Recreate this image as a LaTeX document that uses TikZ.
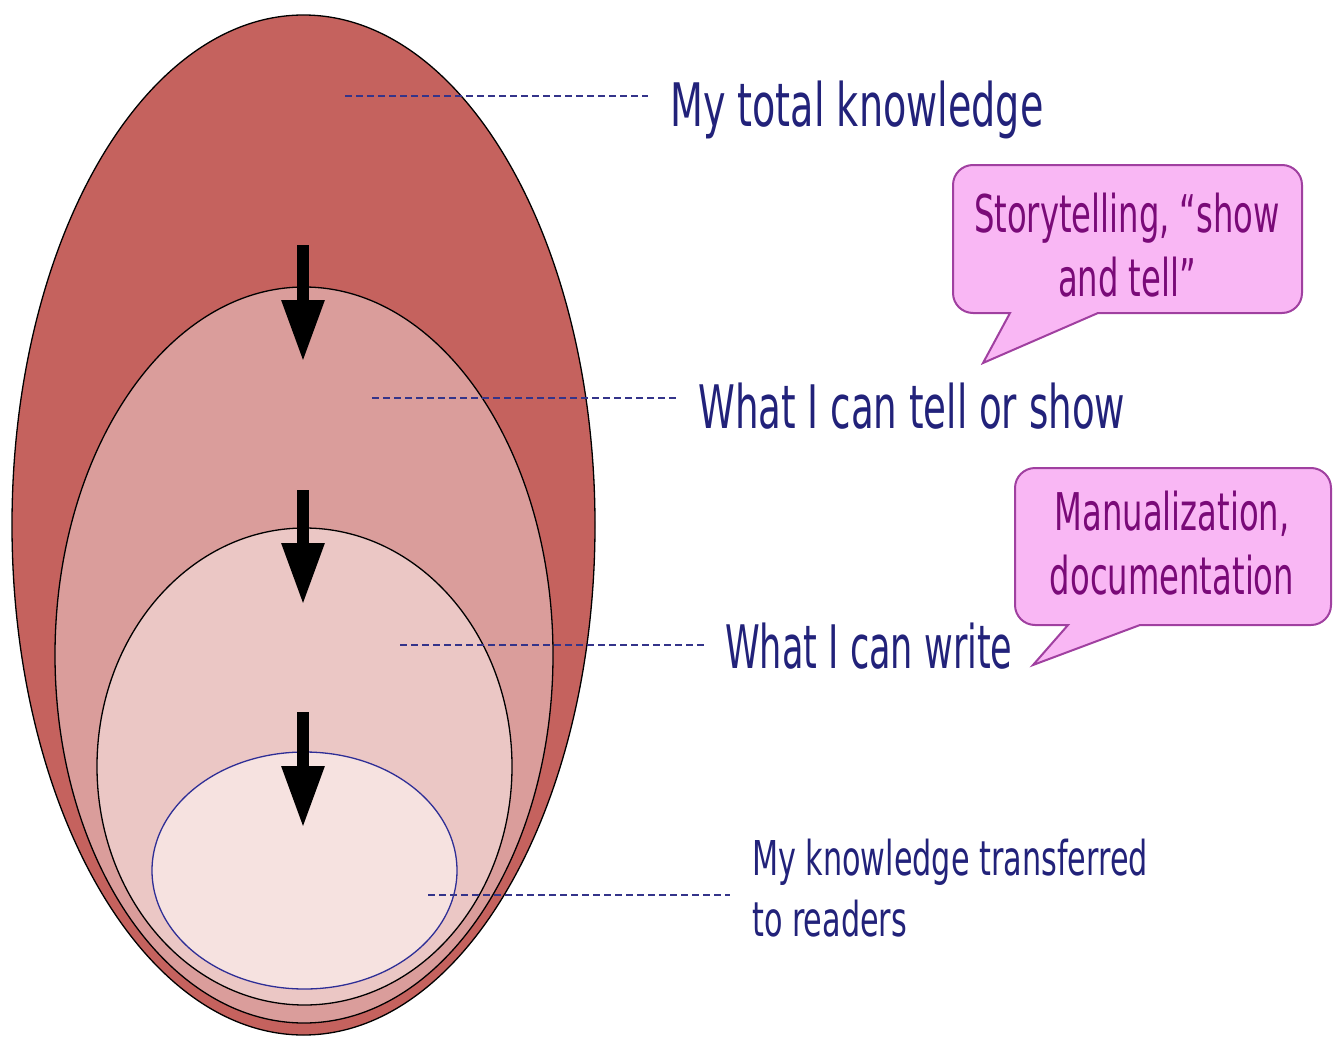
\documentclass[tikz,border=0pt]{standalone}
\usepackage{graphicx}
\usepackage{fontspec}
\setmainfont{DejaVu Sans}
\usetikzlibrary{arrows.meta}
\definecolor{outerred}{HTML}{C5625E}
\definecolor{tellred}{HTML}{DA9D9B}
\definecolor{writered}{HTML}{EBC7C5}
\definecolor{readred}{HTML}{F6E2E0}
\definecolor{readline}{HTML}{2E2E96}
\definecolor{leadblue}{HTML}{34348A}
\definecolor{navytext}{HTML}{22227A}
\definecolor{bubblefill}{HTML}{F9B7F4}
\definecolor{bubbleline}{HTML}{A040A0}
\definecolor{bubbletext}{HTML}{7A0A78}
\newcommand{\narrowtext}[2][0.62]{\scalebox{#1}[1]{#2}}
\tikzset{
layer/.style={draw=black, line width=1.3pt},
leader/.style={draw=leadblue, dash pattern=on 7pt off 4pt, line width=2.2pt},
lbl/.style={text=navytext, inner sep=0pt, anchor=base west, font={\fontsize{60}{72}\selectfont}},
smalllbl/.style={text=navytext, inner sep=0pt, align=left, font={\fontsize{48}{61}\selectfont}},
bubble/.style={draw=bubbleline, fill=bubblefill, line width=2pt},
bubbletxt/.style={text=bubbletext, inner sep=0pt, align=center, font={\fontsize{52}{64}\selectfont}},
push/.style={line width=12pt, -{Triangle[width=40pt,length=62pt]}}
}

\begin{document}
\begin{tikzpicture}[x=1pt,y=-1pt]
  \useasboundingbox (0,0) rectangle (1333,1038);
  % nested knowledge layers
  \draw[layer, fill=outerred] (303.5,525) ellipse [x radius=291.5, y radius=510];
  \draw[layer, fill=tellred] (304,655) ellipse [x radius=249, y radius=368];
  \draw[layer, fill=writered] (304.5,766.5) ellipse [x radius=207.5, y radius=238.5];
  \draw[draw=readline, line width=1.3pt, fill=readred] (304.5,870.5) ellipse [x radius=152.5, y radius=118.5];
  % arrows between layers
  \coordinate (a1) at (303,245);
  \coordinate (a2) at (303,362);
  \coordinate (b1) at (303,490);
  \coordinate (b2) at (303,605);
  \coordinate (c1) at (303,712);
  \coordinate (c2) at (303,828);
  \draw[push] (a1) -- (a2);
  \draw[push] (b1) -- (b2);
  \draw[push] (c1) -- (c2);
  % labels
  \node[lbl] (total) at (670,127) {\narrowtext[0.635]{My total knowledge}};
  \node[lbl] (tell) at (698,428) {\narrowtext{What I can tell or show}};
  \node[lbl] (write) at (725,668) {\narrowtext[0.585]{What I can write}};
  \node[smalllbl, anchor=west] (readers) at (752,888) {\narrowtext[0.63]{My knowledge transferred}\\\narrowtext[0.63]{to readers}};
  % dashed leaders
  \coordinate (d1) at (345,96);
  \coordinate (e1) at (648,96);
  \coordinate (d2) at (372,398);
  \coordinate (e2) at (676,398);
  \coordinate (d3) at (400,645);
  \coordinate (e3) at (704,645);
  \coordinate (d4) at (428,895);
  \coordinate (e4) at (730,895);
  \draw[leader] (d1) -- (e1);
  \draw[leader] (d2) -- (e2);
  \draw[leader] (d3) -- (e3);
  \draw[leader] (d4) -- (e4);
  % callouts
  \draw[bubble] (983,363) -- (1010,313) [rounded corners=20pt] -- (953,313) -- (953,165) -- (1302,165) -- (1302,313) [sharp corners] -- (1098,313) -- cycle;
  \node[bubbletxt] (story) at (1127,245) {\narrowtext{Storytelling, “show}\\\narrowtext{and tell”}};
  \draw[bubble] (1033,665) -- (1068,625) [rounded corners=20pt] -- (1015,625) -- (1015,468) -- (1331,468) -- (1331,625) [sharp corners] -- (1140,625) -- cycle;
  \node[bubbletxt] (manual) at (1172,543) {\narrowtext{Manualization,}\\\narrowtext{documentation}};
\end{tikzpicture}
\end{document}
